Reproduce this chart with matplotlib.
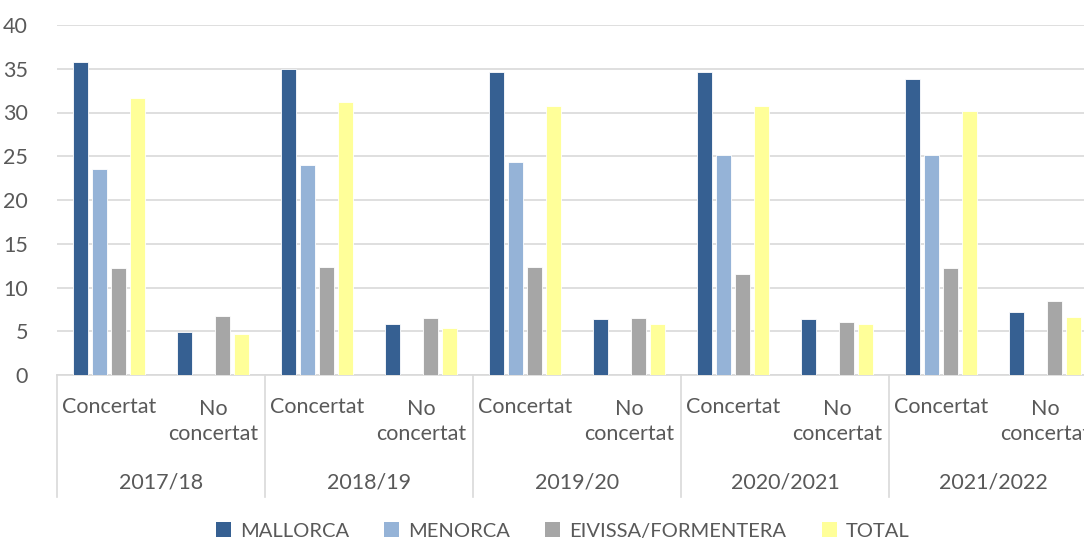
import matplotlib
matplotlib.use("Agg")
import matplotlib.pyplot as plt
from matplotlib.patches import Patch
import numpy as np

years = ["2017/18", "2018/19", "2019/20", "2020/2021", "2021/2022"]
types = ["Concertat", "No\nconcertat"]
series = ["MALLORCA", "MENORCA", "EIVISSA/FORMENTERA", "TOTAL"]
mallorca = [35.8, 4.9, 35.0, 5.8, 34.6, 6.4, 34.6, 6.4, 33.8, 7.2]
menorca = [23.6, 0, 24.0, 0, 24.3, 0, 25.2, 0, 25.1, 0]
eivissa = [12.2, 6.7, 12.3, 6.5, 12.3, 6.5, 11.5, 6.1, 12.2, 8.5]
total = [31.7, 4.7, 31.2, 5.4, 30.8, 5.8, 30.8, 5.8, 30.2, 6.6]
colors = ["#366092", "#95B3D7", "#A6A6A6", "#FFFF99"]

plt.rcParams['font.family'] = ['Lato', 'DejaVu Sans']
text_color = "#595959"
fs = 15.5

fig = plt.figure(figsize=(10.84, 5.43), dpi=100)
ax = fig.add_axes([57/1084, 1-375/543, (1097-57)/1084, 350/543])

values = [mallorca, menorca, eivissa, total]
n = len(mallorca)
x = np.arange(n)
pitch = 0.181
bw = 0.148
for i, (vals, c) in enumerate(zip(values, colors)):
    v = np.array(vals, dtype=float)
    mask = v > 0
    ax.bar(x[mask] + (i - 1.5) * pitch, v[mask], width=bw, color=c,
           edgecolor="white", linewidth=0.6, zorder=3)

ax.set_xlim(-0.5, n - 0.5)
ax.set_ylim(0, 40)
ax.set_yticks(range(0, 41, 5))
ax.yaxis.grid(True, color="#D9D9D9", linewidth=1.2, zorder=0)
for s in ["top", "right", "left"]:
    ax.spines[s].set_visible(False)
ax.spines["bottom"].set_color("#D9D9D9")
ax.spines["bottom"].set_linewidth(1.2)
ax.tick_params(axis="y", length=0, labelsize=fs, labelcolor=text_color, pad=21)
ax.set_xticks([])

trans = ax.get_xaxis_transform()
for k in range(len(years) + 1):
    xs = -0.5 + 2 * k
    ax.plot([xs, xs], [0, -0.349], transform=trans, color="#D9D9D9",
            linewidth=1.2, clip_on=False)

for j in range(n):
    lab = types[j % 2]
    if j % 2 == 0:
        ax.text(x[j], -0.091, lab, transform=trans, ha="center", va="center",
                fontsize=fs, color=text_color)
    else:
        ax.text(x[j], -0.133, lab, transform=trans, ha="center", va="center",
                fontsize=fs, color=text_color, linespacing=1.3, multialignment="center")
for k, yr in enumerate(years):
    ax.text(2 * k + 0.5, -0.306, yr, transform=trans, ha="center", va="center",
            fontsize=fs, color=text_color)

handles = [Patch(facecolor=c, edgecolor="none") for c in colors]
fig.legend(handles, series, loc="center", bbox_to_anchor=(0.519, 0.022), ncol=4,
           frameon=False, fontsize=14.5, labelcolor=text_color, handlelength=0.75,
           handleheight=0.75, handletextpad=0.45, columnspacing=1.75)

fig.savefig("out.png", dpi=100)
